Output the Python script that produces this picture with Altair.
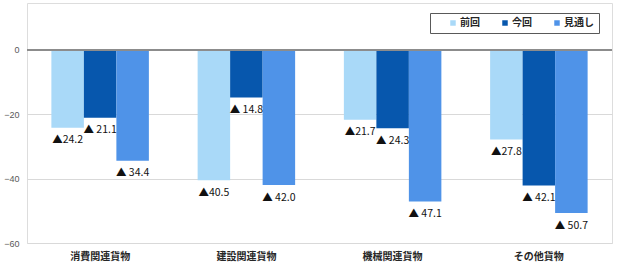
import altair as alt
import pandas as pd

categories = ["消費関連貨物", "建設関連貨物", "機械関連貨物", "その他貨物"]
series = ["前回", "今回", "見通し"]
prev_vals = [-24.2, -40.5, -21.7, -27.8]
curr_vals = [-21.1, -14.8, -24.3, -42.1]
outlook_vals = [-34.4, -42.0, -47.1, -50.7]
prev_labels = ["▲24.2", "▲40.5", "▲21.7", "▲27.8"]
curr_labels = ["▲ 21.1", "▲ 14.8", "▲ 24.3", "▲ 42.1"]
outlook_labels = ["▲ 34.4", "▲ 42.0", "▲ 47.1", "▲ 50.7"]
y_ticks = [0, -20, -40, -60]
colors = ["#a9d9f8", "#0757ad", "#4f93e8"]

rows = []
for s, vals, labs in zip(series, [prev_vals, curr_vals, outlook_vals],
                         [prev_labels, curr_labels, outlook_labels]):
    for c, v, l in zip(categories, vals, labs):
        rows.append({"category": c, "series": s, "value": v, "label": l})
df = pd.DataFrame(rows)

FONT = "Noto Sans CJK JP"

x_enc = alt.X("category:N", sort=categories,
              scale=alt.Scale(paddingInner=0.3333, paddingOuter=0.1667),
              axis=alt.Axis(title=None, labelAngle=0, domain=False, ticks=False,
                            labelPadding=8, labelFontSize=10, labelFontWeight="bold",
                            labelColor="#262626", labelFont=FONT))
xoff = alt.XOffset("series:N", sort=series, scale=alt.Scale(paddingInner=0, paddingOuter=0))
y_scale = alt.Scale(domain=[-60, 14.6], nice=False, zero=False)

bars = alt.Chart(df).mark_bar().encode(
    x=x_enc,
    xOffset=xoff,
    y=alt.Y("value:Q", scale=y_scale,
            axis=alt.Axis(title=None, values=y_ticks, grid=True, gridColor="#d9d9d9",
                          domain=False, ticks=False, labelPadding=8, labelFontSize=9,
                          labelColor="#595959", labelFont="Liberation Sans")),
    color=alt.Color("series:N", sort=series,
                    scale=alt.Scale(domain=series, range=colors),
                    legend=alt.Legend(title=None, orient="none", legendX=403, legendY=10,
                                      direction="horizontal", strokeColor="#595959",
                                      padding=5, symbolType="square", symbolSize=30,
                                      symbolStrokeWidth=0, labelFontSize=10,
                                      labelFontWeight="bold", labelFont=FONT,
                                      labelColor="#262626", columnPadding=7,
                                      symbolOffset=13, labelOffset=2)),
)

zero = alt.Chart(df).mark_rule(color="#8c8c8c", strokeWidth=1.5).encode(y=alt.datum(0))

text = alt.Chart(df).mark_text(baseline="middle", align="center", dy=12.5,
                               fontSize=10.5, font=FONT, color="#111111").encode(
    x=alt.X("category:N", sort=categories),
    xOffset=alt.XOffset("series:N", sort=series),
    y=alt.Y("value:Q"),
    text="label:N",
)

chart = alt.layer(bars, zero, text).properties(
    width=585, height=240,
    autosize=alt.AutoSizeParams(type="none"),
    padding={"left": 27, "top": 3, "right": 8, "bottom": 26},
).configure_view(stroke="#a6a6a6", strokeWidth=1.2).configure(background="white")

chart.save("out.html", embed_options={"renderer": "svg", "actions": False})
